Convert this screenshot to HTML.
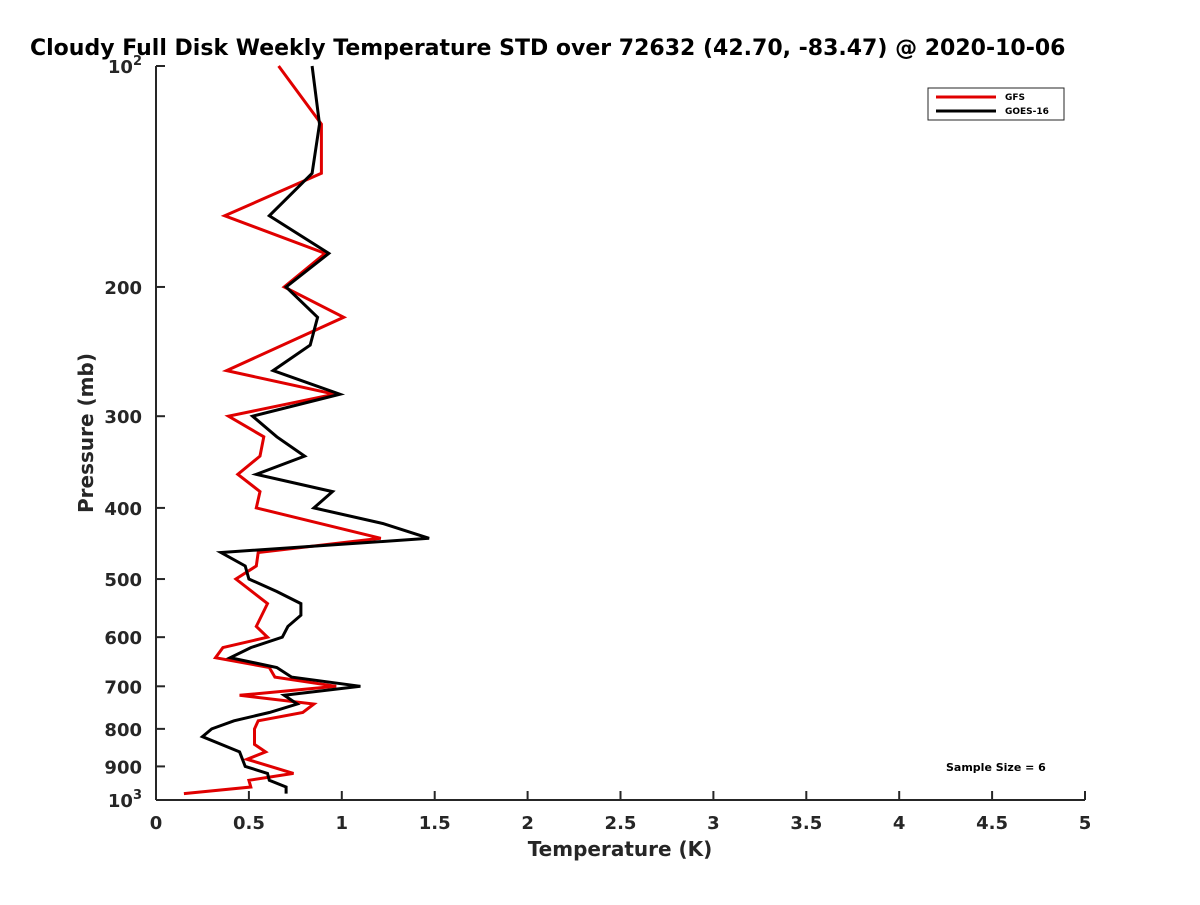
<!DOCTYPE html>
<html><head><meta charset="utf-8"><style>
body{margin:0;background:#fff;}
svg text{font-family:"DejaVu Sans","Liberation Sans",sans-serif;font-weight:bold;fill:#262626;}
</style></head><body>
<svg id="chart" width="1200" height="900" xmlns="http://www.w3.org/2000/svg">
<rect width="1200" height="900" fill="#fff"/>
<text x="30" y="55" font-size="22" style="fill:#000">Cloudy Full Disk Weekly Temperature STD over 72632 (42.70, -83.47) @ 2020-10-06</text>
<g id="axes"></g>
<g id="series"></g>
<g>
<rect x="928" y="88" width="136" height="32" fill="#fff" stroke="#262626" stroke-width="1"/>
<line x1="936" y1="97" x2="996" y2="97" stroke="#e00000" stroke-width="3"/>
<text x="1005" y="100" font-size="9" style="fill:#000">GFS</text>
<line x1="936" y1="111" x2="996" y2="111" stroke="#000" stroke-width="3"/>
<text x="1005" y="114" font-size="9" style="fill:#000">GOES-16</text>
</g>
<text x="946" y="771" font-size="11" style="fill:#000">Sample Size = 6</text>
<text x="620" y="856" font-size="20" text-anchor="middle">Temperature (K)</text>
<text transform="translate(93,433) rotate(-90)" font-size="20" text-anchor="middle">Pressure (mb)</text>
</svg>
<script>
const xTicks=[0,0.5,1,1.5,2,2.5,3,3.5,4,4.5,5];
const xTickLabels=["0","0.5","1","1.5","2","2.5","3","3.5","4","4.5","5"];
const yTicks=[100,200,300,400,500,600,700,800,900,1000];
const yTickLabels=["10^2","200","300","400","500","600","700","800","900","10^3"];
const gfsPressure=[100,120,140,160,180,200,220,260,280,300,320,340,360,380,400,440,460,480,500,540,580,600,620,640,660,680,700,720,740,760,780,800,840,860,880,920,940,960,980];
const gfsValues=[0.66,0.89,0.89,0.37,0.91,0.69,1.01,0.38,0.96,0.39,0.58,0.56,0.44,0.56,0.54,1.21,0.55,0.54,0.43,0.60,0.54,0.60,0.36,0.32,0.61,0.64,0.97,0.45,0.85,0.79,0.55,0.53,0.53,0.59,0.49,0.74,0.50,0.51,0.15];
const goesPressure=[100,120,140,160,180,200,220,240,260,280,300,320,340,360,380,400,420,440,460,480,500,520,540,560,580,600,620,640,660,680,700,720,740,760,780,800,820,860,900,920,940,960,980];
const goesValues=[0.84,0.88,0.84,0.61,0.93,0.70,0.87,0.83,0.63,0.99,0.52,0.65,0.80,0.54,0.95,0.85,1.22,1.47,0.35,0.48,0.50,0.65,0.78,0.78,0.71,0.68,0.51,0.40,0.65,0.73,1.10,0.69,0.76,0.61,0.42,0.30,0.25,0.45,0.48,0.60,0.61,0.70,0.70];
const X0=156,X1=1085,Y0=66,Y1=800;
const xs=v=>X0+(v-0)/(5-0)*(X1-X0);
const ys=p=>Y0+Math.log10(p/100)*(Y1-Y0);
const NS="http://www.w3.org/2000/svg";
function mk(t,a,parent){const e=document.createElementNS(NS,t);for(const k in a)e.setAttribute(k,a[k]);parent.appendChild(e);return e;}
const axes=document.getElementById('axes');
let ax=mk('line',{x1:X0,y1:Y0,x2:X0,y2:Y1,stroke:'#262626','stroke-width':2},axes);


let bx=mk('line',{x1:X0,y1:Y1,x2:X1,y2:Y1,stroke:'#262626','stroke-width':2},axes);


xTicks.forEach((v,i)=>{
  const t=mk('line',{x1:xs(v),y1:Y1,x2:xs(v),y2:Y1-9,stroke:'#262626','stroke-width':2},axes);
  
  
  const l=mk('text',{x:xs(v),y:Y1+29,'font-size':18,'text-anchor':'middle'},axes);
  l.textContent=xTickLabels[i];
  
  
});
yTicks.forEach((p,i)=>{
  const t=mk('line',{x1:X0,y1:ys(p),x2:X0+9,y2:ys(p),stroke:'#262626','stroke-width':2},axes);
  
  
  const lab=yTickLabels[i];
  const l=mk('text',{x:X0-14,y:ys(p)+7,'font-size':18,'text-anchor':'end'},axes);
  
  
  if(lab.indexOf('^')>=0){
    const parts=lab.split('^');
    const a=mk('tspan',{},l);a.textContent=parts[0];
    const b=mk('tspan',{dy:-8,'font-size':13},l);b.textContent=parts[1];
  } else l.textContent=lab;
});
const sg=document.getElementById('series');
function line(pr,vals,color,name){
  const d=pr.map((p,i)=>(i?'L':'M')+xs(vals[i]).toFixed(1)+','+ys(p).toFixed(1)).join(' ');
  const e=mk('path',{d:d,fill:'none',stroke:color,'stroke-width':3,'stroke-linejoin':'miter'},sg);
  
  
}
line(gfsPressure,gfsValues,'#e00000','gfs-line');
line(goesPressure,goesValues,'#000000','goes16-line');
</script>
</body></html>
